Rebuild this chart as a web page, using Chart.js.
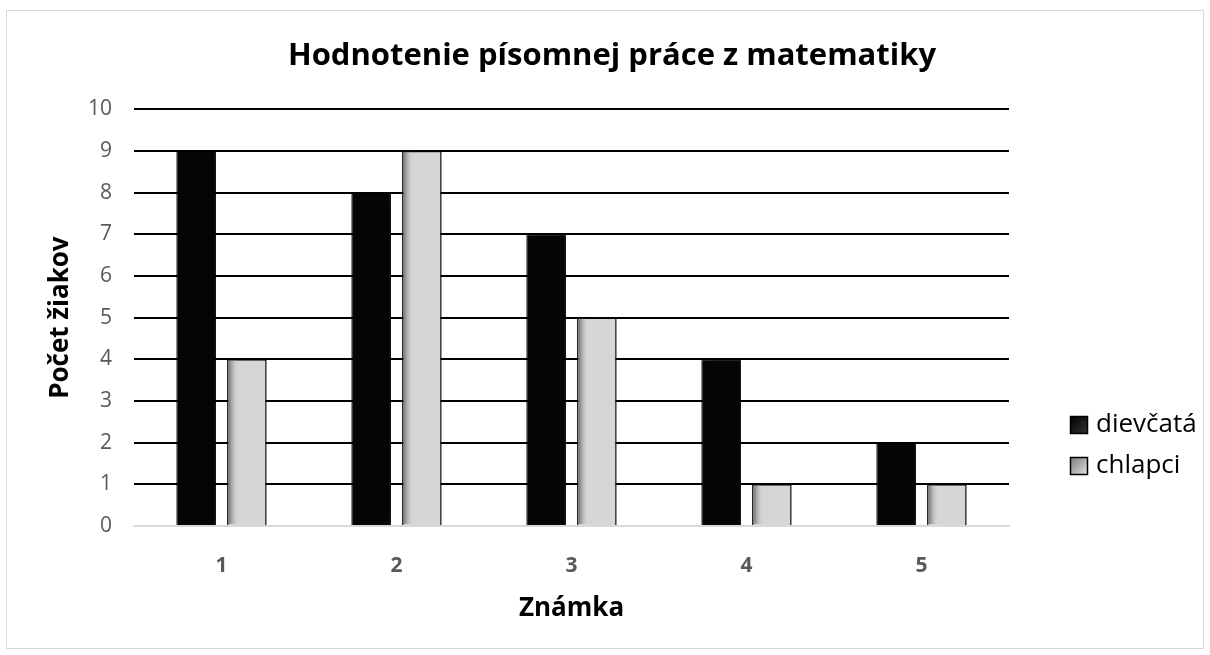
<!DOCTYPE html>
<html>
<head>
<meta charset="utf-8">
<script src="https://cdn.jsdelivr.net/npm/chart.js@4"></script>
<style>
  html, body { margin: 0; padding: 0; background: #fff; }
  #wrap { position: relative; width: 1210px; height: 655px; }
  #frame { position: absolute; left: 6px; top: 10px; width: 1196px; height: 637px; border: 1px solid #d9d9d9; pointer-events: none; }
</style>
</head>
<body>
<div id="wrap">
  <canvas id="gradeChart" width="1210" height="655"></canvas>
  <div id="frame"></div>
</div>
<script>
// Data
const grades = ['1', '2', '3', '4', '5'];
const girls = [9, 8, 7, 4, 2];
const boys = [4, 9, 5, 1, 1];
const seriesNames = ['dievčatá', 'chlapci'];
const yTicks = [0, 1, 2, 3, 4, 5, 6, 7, 8, 9, 10];

const FONT = "'Open Sans', sans-serif";

// soft shadow to the right of the dark bars
const barShadow = {
  id: 'barShadow',
  beforeDatasetDraw(chart, args) {
    if (args.index !== 0) return;
    const ctx = chart.ctx;
    ctx.save();
    ctx.shadowColor = 'rgba(0, 0, 0, 0.6)';
    ctx.shadowOffsetX = 8;
    ctx.shadowOffsetY = 0;
    ctx.shadowBlur = 9;
  },
  afterDatasetDraw(chart, args) {
    if (args.index === 0) chart.ctx.restore();
    if (args.index !== 1) return;
    // darker left edge on the light bars
    const ctx = chart.ctx;
    args.meta.data.forEach(bar => {
      const { x, y, base, width } = bar.getProps(['x', 'y', 'base', 'width'], true);
      const l = x - width / 2 + 1.5;
      const g = ctx.createLinearGradient(l, 0, l + 10, 0);
      g.addColorStop(0, 'rgba(90, 90, 90, 0.8)');
      g.addColorStop(1, 'rgba(214, 214, 214, 0)');
      ctx.fillStyle = g;
      ctx.fillRect(l, y + 1, 10, base - y - 2);
    });
  }
};

// legend drawn on the right, like the original spreadsheet chart
const sideLegend = {
  id: 'sideLegend',
  afterDraw(chart) {
    const ctx = chart.ctx;
    const startY = 425;
    ctx.save();
    ctx.font = '26px ' + FONT;
    ctx.textBaseline = 'middle';
    chart.data.datasets.forEach((ds, i) => {
      const y = startY + i * 41;
      const g = ctx.createLinearGradient(1070, y - 9, 1088, y + 9);
      if (i === 0) {
        g.addColorStop(0, '#000');
        g.addColorStop(1, '#333');
      } else {
        g.addColorStop(0, '#777');
        g.addColorStop(1, '#e6e6e6');
      }
      ctx.fillStyle = g;
      ctx.fillRect(1070, y - 9, 18, 18);
      ctx.strokeStyle = '#000';
      ctx.lineWidth = 1.5;
      ctx.strokeRect(1070.5, y - 8.5, 17, 17);
      ctx.fillStyle = '#000';
      ctx.fillText(ds.label, 1096, y);
    });
    ctx.restore();
  }
};

new Chart(document.getElementById('gradeChart'), {
  type: 'bar',
  data: {
    labels: grades,
    datasets: [
      {
        label: seriesNames[0],
        data: girls,
        backgroundColor: '#050505',
        borderColor: '#000',
        borderWidth: 1,
        barPercentage: 0.78,
        categoryPercentage: 0.58
      },
      {
        label: seriesNames[1],
        data: boys,
        backgroundColor: '#d6d6d6',
        borderColor: '#000',
        borderWidth: 1.5,
        barPercentage: 0.78,
        categoryPercentage: 0.58
      }
    ]
  },
  options: {
    responsive: false,
    animation: false,
    layout: { padding: { left: 14, right: 0, top: 0, bottom: 0 } },
    plugins: {
      legend: { display: false },
      tooltip: { enabled: false },
      title: {
        display: true,
        text: 'Hodnotenie písomnej práce z matematiky',
        color: '#000',
        font: { family: FONT, size: 31, weight: 'bold' },
        padding: { top: 38, bottom: 34 }
      }
    },
    scales: {
      x: {
        afterFit: (scale) => { scale.height = 129; },
        grid: { display: false, drawTicks: false },
        border: { color: '#d9d9d9', width: 2 },
        ticks: {
          color: '#595959',
          padding: 27,
          font: { family: FONT, size: 21, weight: 'bold' }
        },
        title: {
          display: true,
          text: 'Známka',
          color: '#000',
          font: { family: FONT, size: 26, weight: 'bold' },
          padding: { bottom: 31 }
        }
      },
      y: {
        min: 0,
        max: 10,
        afterFit: (scale) => { scale.width = 120; },
        afterBuildTicks: (scale) => { scale.ticks = yTicks.map(v => ({ value: v })); },
        grid: {
          drawTicks: false,
          lineWidth: 2,
          color: (c) => c.tick && c.tick.value === 0 ? '#d9d9d9' : '#000'
        },
        border: { display: false },
        ticks: {
          color: '#595959',
          padding: 22,
          font: { family: FONT, size: 21 }
        },
        title: {
          display: true,
          text: 'Počet žiakov',
          color: '#000',
          font: { family: FONT, size: 26, weight: 'bold' },
          padding: { top: 31 }
        }
      },
      // empty axis on the right that only keeps room for the legend
      legendSpace: {
        position: 'right',
        afterFit: (scale) => { scale.width = 201; },
        grid: { display: false, drawTicks: false },
        border: { display: false },
        ticks: { display: false },
        title: { display: false }
      }
    }
  },
  plugins: [barShadow, sideLegend]
});
</script>
</body>
</html>
